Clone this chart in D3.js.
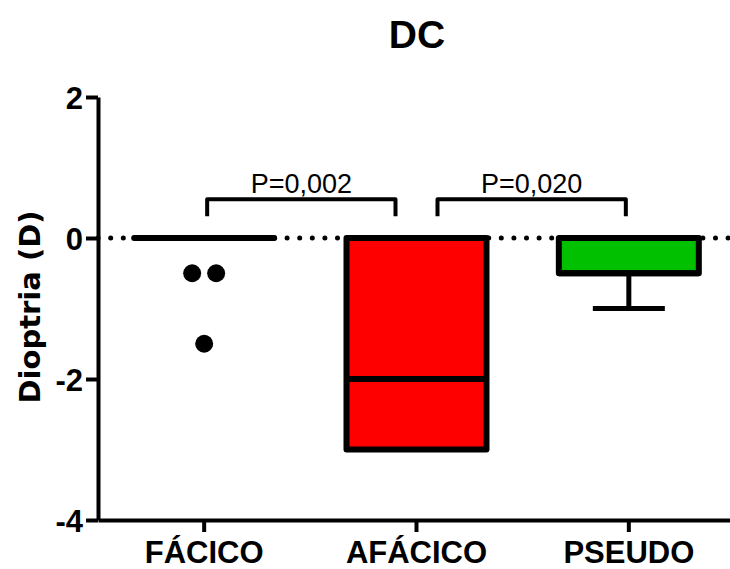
<!DOCTYPE html>
<html>
<head>
<meta charset="utf-8">
<script src="https://cdn.jsdelivr.net/npm/d3@7"></script>
<style>
  body { margin: 0; background: #fff; }
  svg { display: block; }
</style>
</head>
<body>
<div id="chart"></div>
<script>
// box plot values (diopters)
const categories = ["FÁCICO", "AFÁCICO", "PSEUDO"];
const whiskerLow = [0, -3, -1];
const q1 = [0, -3, -0.5];
const median = [0, -2, -0.5];
const q3 = [0, 0, 0];
const whiskerHigh = [0, 0, 0];
const outliers = [[-0.5, -0.5, -1.5], [], []];
const boxColors = ["#ffffff", "#ff0000", "#00c000"];
const comparisons = [
    ["FÁCICO", "AFÁCICO", "P=0,002"],
    ["AFÁCICO", "PSEUDO", "P=0,020"]
];
const yTicks = [-4, -2, 0, 2];

const width = 730, height = 569;

const svg = d3.select("#chart").append("svg")
    .attr("width", width)
    .attr("height", height);

const x = d3.scaleBand()
    .domain(categories)
    .range([98, 735])
    .padding(0);

const y = d3.scaleLinear()
    .domain([-4, 2])
    .range([520, 97]);

const cx = d => x(d) + x.bandwidth() / 2;
const boxHalf = 70;
const capHalf = 36;

// title
svg.append("text")
    .attr("x", 417)
    .attr("y", 48)
    .attr("text-anchor", "middle")
    .style("font-family", "'Liberation Sans', Arial, sans-serif")
    .style("font-weight", "bold")
    .style("font-size", "39px")
    .text("DC");

// y axis title
svg.append("text")
    .attr("transform", `translate(40, 307) rotate(-90)`)
    .attr("text-anchor", "middle")
    .style("font-family", "'DejaVu Sans', Verdana, sans-serif")
    .style("font-weight", "bold")
    .style("font-size", "29px")
    .text("Dioptria (D)");

// dotted zero line
svg.append("line")
    .attr("x1", 98.1)
    .attr("x2", 730)
    .attr("y1", y(0))
    .attr("y2", y(0))
    .style("stroke", "#000")
    .style("stroke-width", 5)
    .style("stroke-linecap", "round")
    .style("stroke-dasharray", "0 12.6");

// boxes
categories.forEach((c, i) => {
    const g = svg.append("g");
    const xc = cx(c);

    // whiskers
    if (whiskerLow[i] < q1[i]) {
        g.append("line")
            .attr("x1", xc).attr("x2", xc)
            .attr("y1", y(q1[i])).attr("y2", y(whiskerLow[i]))
            .style("stroke", "#000").style("stroke-width", 5);
        g.append("line")
            .attr("x1", xc - capHalf).attr("x2", xc + capHalf)
            .attr("y1", y(whiskerLow[i])).attr("y2", y(whiskerLow[i]))
            .style("stroke", "#000").style("stroke-width", 5);
    }
    if (whiskerHigh[i] > q3[i]) {
        g.append("line")
            .attr("x1", xc).attr("x2", xc)
            .attr("y1", y(q3[i])).attr("y2", y(whiskerHigh[i]))
            .style("stroke", "#000").style("stroke-width", 5);
        g.append("line")
            .attr("x1", xc - capHalf).attr("x2", xc + capHalf)
            .attr("y1", y(whiskerHigh[i])).attr("y2", y(whiskerHigh[i]))
            .style("stroke", "#000").style("stroke-width", 5);
    }

    // box as a path so a flat box still shows up as a line
    const x0 = xc - boxHalf, x1 = xc + boxHalf;
    g.append("path")
        .attr("d", `M${x0},${y(q3[i])}H${x1}V${y(q1[i])}H${x0}Z`)
        .style("fill", boxColors[i])
        .style("stroke", "#000")
        .style("stroke-width", 6)
        .style("stroke-linejoin", "round");

    // median
    g.append("line")
        .attr("x1", x0).attr("x2", x1)
        .attr("y1", y(median[i])).attr("y2", y(median[i]))
        .style("stroke", "#000").style("stroke-width", 6);

    // outliers, spread sideways when they share a value
    const counts = d3.rollup(outliers[i], v => v.length, d => d);
    const seen = new Map();
    outliers[i].forEach(v => {
        const n = counts.get(v);
        const k = seen.get(v) || 0;
        seen.set(v, k + 1);
        g.append("circle")
            .attr("cx", xc + (k - (n - 1) / 2) * 24)
            .attr("cy", y(v))
            .attr("r", 9)
            .style("fill", "#000");
    });
});

// significance brackets
const shared = new Set(comparisons.flatMap(d => [d[0], d[1]])
    .filter((d, i, a) => a.indexOf(d) !== i));
comparisons.forEach(([a, b, label]) => {
    const xa = cx(a) + (shared.has(a) ? 21 : 3);
    const xb = cx(b) - (shared.has(b) ? 21 : 3);
    const yTop = y(0.55), yLeg = y(0.31);
    svg.append("path")
        .attr("d", `M${xa},${yLeg}V${yTop}H${xb}V${yLeg}`)
        .style("fill", "none")
        .style("stroke", "#000")
        .style("stroke-width", 4)
        .style("stroke-linejoin", "round");
    svg.append("text")
        .attr("x", (xa + xb) / 2)
        .attr("y", yTop - 6)
        .attr("text-anchor", "middle")
        .style("font-family", "'Liberation Sans', Arial, sans-serif")
        .style("font-size", "27px")
        .text(label);
});

// y axis
const yAxis = svg.append("g")
    .attr("transform", "translate(98,0)")
    .call(d3.axisLeft(y)
        .tickValues(yTicks)
        .tickFormat(d => String(d))
        .tickSize(12)
        .tickSizeOuter(0)
        .tickPadding(3));

yAxis.select(".domain").style("stroke-width", 4);
yAxis.selectAll(".tick line").style("stroke-width", 4);
yAxis.selectAll(".tick text")
    .style("font-family", "'Liberation Sans', Arial, sans-serif")
    .style("font-weight", "bold")
    .style("font-size", "31px")
    .attr("dy", "0.36em")
    .style("fill", "#000");

// x axis
const xAxis = svg.append("g")
    .attr("transform", "translate(0,520)")
    .call(d3.axisBottom(x)
        .tickSize(12)
        .tickSizeOuter(0));

xAxis.select(".domain").style("stroke-width", 4);
xAxis.selectAll(".tick line").style("stroke-width", 4);
xAxis.selectAll(".tick text")
    .attr("y", 43)
    .attr("dy", 0)
    .style("font-family", "'Liberation Sans', Arial, sans-serif")
    .style("font-weight", "bold")
    .style("font-size", "31px")
    .style("fill", "#000");
</script>
</body>
</html>
